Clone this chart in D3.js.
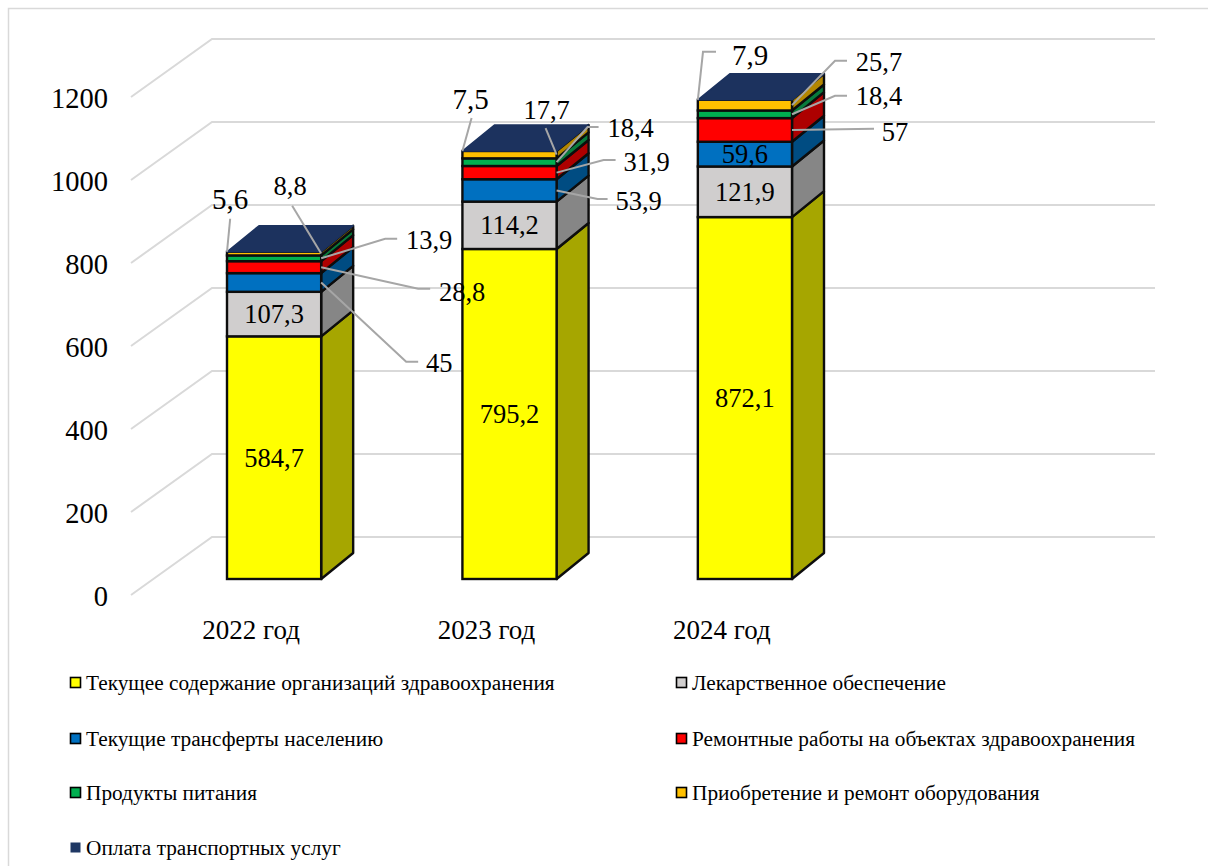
<!DOCTYPE html>
<html><head><meta charset="utf-8">
<script src="https://cdn.jsdelivr.net/npm/d3@7"></script>
<style>
html,body{margin:0;padding:0;background:#fff}
svg{display:block}
text{font-family:"Liberation Serif","Times New Roman",serif;fill:#000}
</style></head><body>
<svg id="c" width="1208" height="866"></svg>
<script>
const categories = ["2022 год","2023 год","2024 год"];
const seriesNames = ["Текущее содержание организаций здравоохранения","Лекарственное обеспечение","Текущие трансферты населению","Ремонтные работы на объектах здравоохранения","Продукты питания","Приобретение и ремонт оборудования","Оплата транспортных услуг"];
const maintenance = [584.7,795.2,872.1];
const medicines = [107.3,114.2,121.9];
const transfers = [45,53.9,59.6];
const repairs = [28.8,31.9,57];
const food = [13.9,18.4,18.4];
const equipment = [8.8,17.7,25.7];
const transport = [5.6,7.5,7.9];
const yTicks = [0,200,400,600,800,1000,1200];

const seriesValues = [maintenance,medicines,transfers,repairs,food,equipment,transport];
const frontColors = ["#FFFF00","#D0CECE","#0070C0","#FF0000","#00B050","#FFC000","#1F3864"];
const sideColors = ["#A6A600","#868686","#004C82","#AD0000","#087A3B","#B38600","#1F3864"];
const topColor = "#1C325E";

// Leader layout: [series index, elbow dx,dy | null, end dx,dy, label dx,dy] relative to bar's top-right corner
const leaders = [
 [[6,null,[-91,-33],[-91,-53],"l"],[5,null,[-29,-46],[-31,-66]],[4,[64,-13],[76,-13],[108,-12]],[3,[97,37],[109,37],[141,40]],[2,[85,110],[97,110],[118,111]]],
 [[6,null,[-85,-33],[-86,-52],"l"],[5,null,[-11,-23],[-10,-41]],[4,[31,-24],[42,-24],[74,-23]],[3,[47,9],[59,9],[90,11]],[2,[41,48],[51,48],[82,50]]],
 [[6,[-89,-48],[-76,-48],[-42,-45],"l"],[5,[43,-39],[55,-39],[87,-38]],[4,[43,-4],[55,-4],[87,-4]],[3,null,[82,29],[103,32]]]
];
const insideLabels = [[0,1],[0,1],[0,1,2]];

const svg = d3.select("#c");
const y = d3.scaleLinear().domain([0,1200]).range([579,81]);
const x = d3.scaleBand().domain(categories).range([227,792]).paddingInner(0.6).paddingOuter(0);
const depth = {dx:32, dy:-26};
const wall = {left:131, back:212, right:1155, frontDy:16, backDy:-42};
const fmt = v => String(v).replace(".",",");

// frame
svg.append("path").attr("d","M8.5,866V8.5H1208").attr("fill","none").attr("stroke","#D9D9D9").attr("stroke-width",1.5);

// gridlines
svg.append("g").selectAll("path").data(yTicks).join("path")
  .attr("d",v=>`M${wall.left},${y(v)+wall.frontDy}L${wall.back},${y(v)+wall.backDy}H${wall.right}`)
  .attr("fill","none").attr("stroke","#D9D9D9").attr("stroke-width",2);

// axes
const axY = svg.append("g").attr("transform",`translate(108,${wall.frontDy+1})`)
  .call(d3.axisLeft(y).tickValues(yTicks).tickSize(0).tickPadding(0).tickFormat(d=>d));
axY.select(".domain").remove();
axY.selectAll("text").style("font-size","28.5px").style("font-family",'"Liberation Serif"');
const axX = svg.append("g").attr("transform","translate(-23,613)")
  .call(d3.axisBottom(x).tickSize(0).tickPadding(0));
axX.select(".domain").remove();
axX.selectAll("text").style("font-size","27px").style("font-family",'"Liberation Serif"').attr("dy","0.95em");

// bars
const stroke = "#0d0d0d", sw = 2.4;
const bars = svg.append("g");
const labels = svg.append("g");
categories.forEach((cat,ci)=>{
  const x0 = x(cat), x1 = x0 + x.bandwidth();
  let base = 0;
  const segs = [];
  seriesValues.forEach((vals,si)=>{
    if(si<6){ segs.push({si,v:vals[ci],a:base,b:base+vals[ci]}); base += vals[ci]; }
  });
  const topY = y(base);
  const g = bars.append("g");
  g.selectAll("path.side").data(segs).join("path").attr("class","side")
    .attr("d",d=>`M${x1},${y(d.a)}L${x1+depth.dx},${y(d.a)+depth.dy}V${y(d.b)+depth.dy}L${x1},${y(d.b)}Z`)
    .attr("fill",d=>sideColors[d.si]).attr("stroke",stroke).attr("stroke-width",sw).attr("stroke-linejoin","round");
  g.selectAll("rect.front").data(segs).join("rect").attr("class","front")
    .attr("x",x0).attr("width",x.bandwidth()).attr("y",d=>y(d.b)).attr("height",d=>y(d.a)-y(d.b))
    .attr("fill",d=>frontColors[d.si]).attr("stroke",stroke).attr("stroke-width",sw);
  // top cap: transport series
  g.append("path")
    .attr("d",`M${x0},${topY}L${x0+depth.dx},${topY+depth.dy}H${x1+depth.dx}L${x1},${topY}Z`)
    .attr("fill",topColor).attr("stroke",topColor).attr("stroke-width",1.5).attr("stroke-linejoin","round");

  insideLabels[ci].forEach(si=>{
    const s = segs[si];
    labels.append("text").attr("x",(x0+x1)/2).attr("y",(y(s.a)+y(s.b))/2)
      .attr("text-anchor","middle").attr("dominant-baseline","central").style("font-size","26.5px").text(fmt(s.v));
  });
  leaders[ci].forEach(([si,elbow,end,lab,corner])=>{
    const s = segs[si];
    const start = corner==="l" ? [x0,topY] : [x1,(y(s.a)+y(s.b))/2];
    const pts = [start];
    if(elbow) pts.push([x1+elbow[0],topY+elbow[1]]);
    pts.push([x1+end[0],topY+end[1]]);
    labels.append("path").attr("d",d3.line()(pts)).attr("fill","none").attr("stroke","#A6A6A6").attr("stroke-width",2);
    labels.append("text").attr("x",x1+lab[0]).attr("y",topY+lab[1])
      .attr("text-anchor","middle").attr("dominant-baseline","central").style("font-size",corner==="l"?"29px":"26.5px")
      .text(fmt(seriesValues[si][ci]));
  });
});

// legend
const legendCols = [70,676], legendRows = [683,739,793,848];
const leg = svg.append("g");
seriesNames.forEach((name,i)=>{
  const lx = legendCols[i%2], ly = legendRows[Math.floor(i/2)];
  leg.append("rect").attr("x",lx+.5).attr("y",ly-5.5).attr("width",10).attr("height",10)
    .attr("fill",frontColors[i]).attr("stroke",i===6?"none":"#000").attr("stroke-width",i===6?0:1.6);
  leg.append("text").attr("x",lx+16).attr("y",ly).attr("dominant-baseline","central")
    .style("font-size","21.3px").text(name);
});
</script>
</body></html>
